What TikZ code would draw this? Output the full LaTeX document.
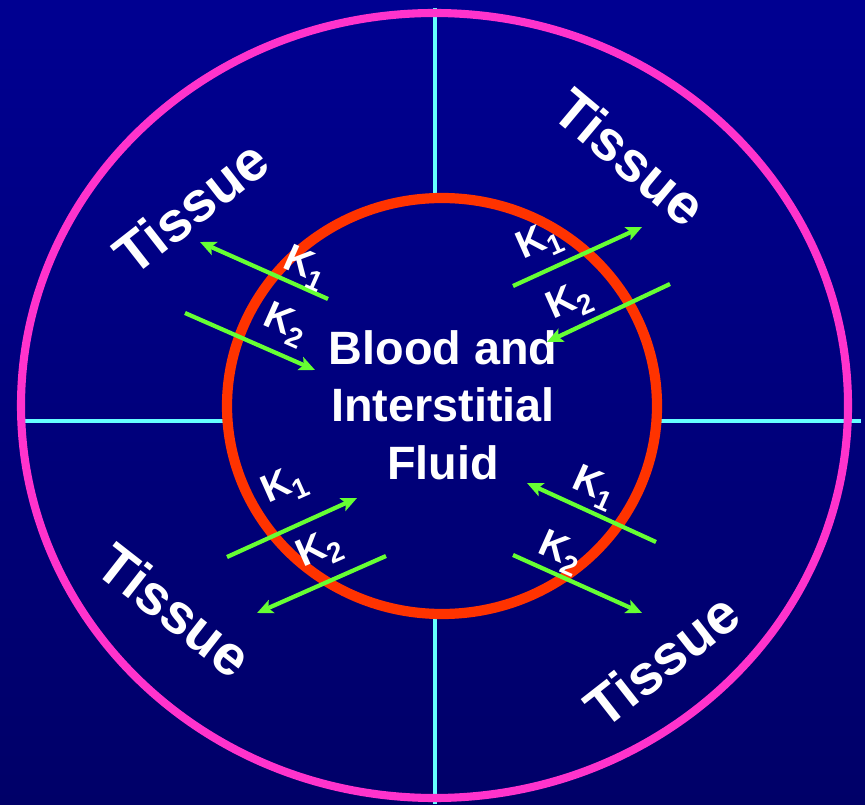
\documentclass[tikz,border=0pt]{standalone}
\usepackage{fontspec}
\setmainfont{Liberation Sans}
\usepackage{tikz}
\usetikzlibrary{arrows.meta}
\definecolor{bgtop}{RGB}{0,0,145}
\definecolor{bgbot}{RGB}{0,0,104}
\definecolor{tissuepink}{RGB}{255,51,204}
\definecolor{bloodred}{RGB}{255,51,0}
\definecolor{divcyan}{RGB}{102,255,255}
\definecolor{kgreen}{RGB}{102,255,51}
\tikzset{
  tissue/.style={text=white, font=\fontsize{16}{19}\selectfont\bfseries},
  rate/.style={text=white, inner sep=0pt, font=\fontsize{11}{12}\selectfont\bfseries},
  flux/.style={kgreen, line width=1.2pt, -{Stealth[length=4.5pt,width=4pt,inset=1pt]}},
}
\newcommand{\rk}[1]{K\raisebox{-0.45ex}{\fontsize{8}{9}\selectfont #1}}

\begin{document}
\begin{tikzpicture}[x=0.01cm, y=-0.01cm]
\useasboundingbox (0,0) rectangle (865,804);
\shade[top color=bgtop, bottom color=bgbot] (0,0) rectangle (865,804);
% dividing lines
\draw[divcyan, line width=1.2pt] (435,8) -- (435,196) (435,616) -- (435,804);
\draw[divcyan, line width=1.2pt] (22,421) -- (224,421) (660,421) -- (861,421);
% compartments
\draw[tissuepink, line width=2.3pt] (434.5,405.5) ellipse [x radius=413.5, y radius=392.5];
\draw[bloodred, line width=2.9pt] (442,406) ellipse [x radius=215, y radius=208];
\node[text=white, align=center, font=\fontsize{13.3}{16.4}\selectfont\bfseries] (blood) at (443,405) {Blood and\\Interstitial\\Fluid};
\node[tissue, rotate=38] (tisTL) at (191,207) {Tissue};
\node[tissue, rotate=-40] (tisTR) at (630,157) {Tissue};
\node[tissue, rotate=-38] (tisBL) at (175,610) {Tissue};
\node[tissue, rotate=38] (tisBR) at (662,660) {Tissue};
% exchange arrows
\coordinate (a1s) at (328,299); \coordinate (a1e) at (200,242);
\coordinate (a2s) at (185,313); \coordinate (a2e) at (315,370);
\coordinate (b1s) at (513,286); \coordinate (b1e) at (642,227);
\coordinate (b2s) at (670,284); \coordinate (b2e) at (547,342);
\coordinate (c1s) at (227,557); \coordinate (c1e) at (357,498);
\coordinate (c2s) at (386,556); \coordinate (c2e) at (257,613);
\coordinate (d1s) at (656,542); \coordinate (d1e) at (527,483);
\coordinate (d2s) at (513,555); \coordinate (d2e) at (642,613);
\foreach \p in {a1,a2,b1,b2,c1,c2,d1,d2}
  \draw[flux] (\p s) -- (\p e);
\node[rate, rotate=-24] (kA1) at (305,268) {\rk{1}};
\node[rate, rotate=-24] (kA2) at (285,325) {\rk{2}};
\node[rate, rotate=24] (kB1) at (540,243) {\rk{1}};
\node[rate, rotate=24] (kB2) at (570,303) {\rk{2}};
\node[rate, rotate=24] (kC1) at (285,487) {\rk{1}};
\node[rate, rotate=24] (kC2) at (320,551) {\rk{2}};
\node[rate, rotate=-24] (kD1) at (594,488) {\rk{1}};
\node[rate, rotate=-24] (kD2) at (560,553) {\rk{2}};
\end{tikzpicture}
\end{document}
